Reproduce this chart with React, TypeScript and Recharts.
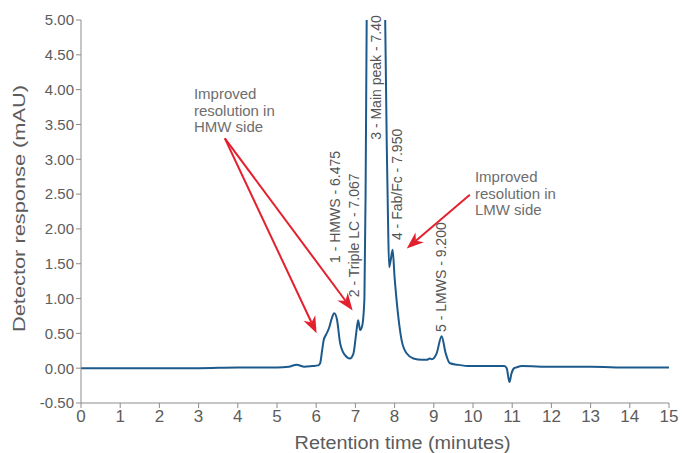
import React from 'react';
import { LineChart, Line, XAxis, YAxis, ReferenceLine, ReferenceDot } from 'recharts';

// chromatogram trace
const retentionTime = [
  0, 1, 2, 3, 4, 5, 5.3, 5.5, 5.7, 5.9, 6.05, 6.1, 6.15, 6.19, 6.25, 6.33, 6.4, 6.46, 6.53,
  6.61, 6.73, 6.86, 6.95, 7.02, 7.07, 7.12, 7.17, 7.23, 7.26, 7.29, 7.4, 7.7, 7.76, 7.8, 7.83,
  7.86, 7.9, 7.95, 8.0, 8.05, 8.12, 8.18, 8.31, 8.48, 8.7, 8.82, 8.9, 8.95, 9.07, 9.2, 9.3,
  9.41, 9.6, 9.92, 10.4, 10.8, 10.86, 10.93, 10.98, 11.05, 11.1, 11.25, 12, 13, 14, 15,
];
const response = [
  0, 0, 0, 0, 0.01, 0.01, 0.02, 0.05, 0.02, 0.03, 0.04, 0.07, 0.25, 0.4, 0.48, 0.58, 0.72, 0.79, 0.7,
  0.36, 0.19, 0.14, 0.21, 0.5, 0.69, 0.55, 0.6, 1.0, 2.5, 5.2, 9, 9, 5, 3.2, 2.2,
  1.45, 1.55, 1.7, 1.3, 0.98, 0.62, 0.4, 0.21, 0.14, 0.12, 0.12, 0.14, 0.13, 0.21, 0.46, 0.22,
  0.07, 0.05, 0.03, 0.03, 0.03, 0, -0.2, -0.08, 0, 0.01, 0.03, 0.02, 0.02, 0.01, 0.01,
];

const xTicks = [0, 1, 2, 3, 4, 5, 6, 7, 8, 9, 10, 11, 12, 13, 14, 15];
const yTicks = [-0.5, 0, 0.5, 1, 1.5, 2, 2.5, 3, 3.5, 4, 4.5, 5];

const peakNames = [
  '1 - HMWS - 6.475',
  '2 - Triple LC - 7.067',
  '3 - Main peak - 7.40',
  '4 - Fab/Fc - 7.950',
  '5 - LMWS - 9.200',
];
const peakLabelX = [6.48, 6.97, 7.53, 8.06, 9.18];
const peakLabelY = [1.51, 1.02, 3.28, 1.84, 0.52];

const noteLines = [
  ['Improved', 'resolution in', 'HMW side'],
  ['Improved', 'resolution in', 'LMW side'],
];
const noteX = [2.88, 10.05];
const noteY = [3.865, 2.67];

const arrowFrom = [[3.67, 3.3], [3.67, 3.3], [9.92, 2.49]];
const arrowTo = [[6.01, 0.5], [6.93, 0.83], [8.31, 1.72]];

const data = retentionTime.map((t, i) => ({ time: t, value: response[i] }));

const FONT = '"Liberation Sans", Arial, Helvetica, sans-serif';
const AXIS = '#8c8c8c';
const TEXT = '#5c5c5c';
const RED = '#e3202d';

// red arrow with a notched head, tail -> tip
const Arrow = (p: any) => {
  const { x1, y1, x2, y2 } = p;
  const a = Math.atan2(y2 - y1, x2 - x1);
  const ux = Math.cos(a), uy = Math.sin(a);
  const nx = -uy, ny = ux;
  const len = 17, half = 6.5, notch = 12;
  const bx = x2 - len * ux, by = y2 - len * uy;
  const head = [
    [x2, y2],
    [bx + half * nx, by + half * ny],
    [x2 - notch * ux, y2 - notch * uy],
    [bx - half * nx, by - half * ny],
  ].map((q) => q.join(',')).join(' ');
  return (
    <g>
      <line x1={x1} y1={y1} x2={x2 - notch * ux} y2={y2 - notch * uy} stroke={RED} strokeWidth={2} />
      <polygon points={head} fill={RED} />
    </g>
  );
};

const PeakLabel = (text: string) => (p: any) => (
  <text
    x={p.cx}
    y={p.cy}
    transform={`rotate(-90 ${p.cx} ${p.cy})`}
    textAnchor="start"
    dominantBaseline="central"
    fontSize={14}
    fontFamily={FONT}
    fill="#555"
  >
    {text}
  </text>
);

const Note = (lines: string[]) => (p: any) => (
  <text x={p.cx} y={p.cy} fontSize={15} fontFamily={FONT} fill="#6e6e6e">
    {lines.map((l, i) => (
      <tspan key={i} x={p.cx} dy={i === 0 ? 0 : 16.5}>
        {l}
      </tspan>
    ))}
  </text>
);

const XTitle = (p: any) => {
  const vb = p.viewBox;
  return (
    <text
      x={vb.x + vb.width * 0.547}
      y={vb.y + 46}
      textAnchor="middle"
      fontSize={18}
      fontFamily={FONT}
      fill={TEXT}
      textLength={216}
      lengthAdjust="spacingAndGlyphs"
    >
      Retention time (minutes)
    </text>
  );
};

const YTitle = (p: any) => {
  const vb = p.viewBox;
  const cx = vb.x + 19;
  const cy = vb.y + vb.height / 2 - 3;
  return (
    <text
      x={cx}
      y={cy}
      transform={`rotate(-90 ${cx} ${cy})`}
      textAnchor="middle"
      dominantBaseline="central"
      fontSize={17}
      fontFamily={FONT}
      fill={TEXT}
      textLength={247}
      lengthAdjust="spacingAndGlyphs"
    >
      Detector response (mAU)
    </text>
  );
};

export default function App() {
  return (
    <div style={{ position: 'absolute', left: 0, top: 0, background: '#fff' }}>
      <LineChart
        width={683}
        height={453}
        data={data}
        margin={{ top: 20, right: 14, bottom: 0, left: 0 }}
        style={{ fontFamily: FONT }}
      >
        <XAxis
          type="number"
          dataKey="time"
          domain={[0, 15]}
          ticks={xTicks}
          interval={0}
          height={50}
          stroke={AXIS}
          tickSize={5}
          tickMargin={2}
          tick={{ fontSize: 17, fill: TEXT, fontFamily: FONT }}
          label={{ content: XTitle }}
        />
        <YAxis
          type="number"
          domain={[-0.5, 5]}
          ticks={yTicks}
          interval={0}
          allowDataOverflow
          width={81}
          stroke={AXIS}
          tickSize={5}
          tickMargin={2}
          tickFormatter={(v: number) => v.toFixed(2)}
          tick={{ fontSize: 15, fill: TEXT, fontFamily: FONT }}
          label={{ content: YTitle }}
        />
        <Line
          type="monotone"
          dataKey="value"
          stroke="#1d5a8c"
          strokeWidth={2}
          dot={false}
          isAnimationActive={false}
        />
        {peakNames.map((name, i) => (
          <ReferenceDot key={name} x={peakLabelX[i]} y={peakLabelY[i]} r={0} shape={PeakLabel(name)} />
        ))}
        {noteLines.map((lines, i) => (
          <ReferenceDot key={'n' + i} x={noteX[i]} y={noteY[i]} r={0} shape={Note(lines)} />
        ))}
        {arrowFrom.map((from, i) => (
          <ReferenceLine
            key={'a' + i}
            segment={[
              { x: from[0], y: from[1] },
              { x: arrowTo[i][0], y: arrowTo[i][1] },
            ]}
            shape={Arrow}
          />
        ))}
      </LineChart>
    </div>
  );
}
